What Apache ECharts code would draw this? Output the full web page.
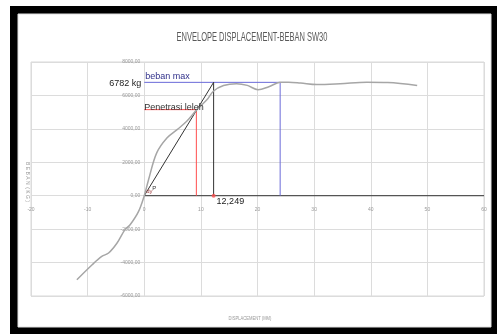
<!DOCTYPE html>
<html><head><meta charset="utf-8">
<script src="https://cdn.jsdelivr.net/npm/echarts@6/dist/echarts.min.js"></script>
<style>html,body{margin:0;padding:0;background:#fff;}#c{width:497px;height:334px;}</style>
</head><body><div id="c"></div>
<script>
// Data (displacement mm, load kg)
const xTicks = [-20, -10, 0, 10, 20, 30, 40, 50, 60];
const yTicks = [-6000, -4000, -2000, 0, 2000, 4000, 6000, 8000];
const curveX = [-11.9, -9.2, -7.5, -6.3, -4.8, -3.4, -2.5, -1.0, 0, 0.76, 2.2, 4.0, 5.8, 7.5, 9.3, 11.1, 12.2, 14.0, 16.3, 18.2, 20.1, 22.0, 24.0, 25.5, 27.6, 30.5, 34.6, 39.3, 43.0, 48.2];
const curveY = [-5030, -4130, -3630, -3430, -2830, -2030, -1740, -940, 0, 960, 2560, 3450, 3950, 4450, 5150, 5750, 6250, 6590, 6700, 6600, 6340, 6520, 6782, 6790, 6740, 6650, 6700, 6790, 6770, 6600];
const yieldDisp = 9.2, yieldLoad = 5150;
const maxDisp = 24.0, maxLoad = 6782;
const ultDisp = 12.249;

const curve = curveX.map((x, i) => [x, curveY[i]]);
const seg = (a, b, color, w) => ({type: 'line', data: [a, b], showSymbol: false, silent: true, lineStyle: {color: color, width: w || 1}, z: 3});
const fmtY = v => (Math.abs(v) < 1e-9 ? 0 : v).toFixed(2).replace('.', ',');
const fmtX = v => String(Math.abs(v) < 1e-9 ? 0 : v);

const chart = echarts.init(document.getElementById('c'), null, {renderer: 'canvas'});
const baseGraphic = [
  {type: 'rect', shape: {x: 10, y: 6, width: 487, height: 328}, style: {fill: '#000'}, z: -10, silent: true},
  {type: 'rect', shape: {x: 18, y: 14, width: 473, height: 313}, style: {fill: '#fff', stroke: '#e0e0e0'}, z: -9, silent: true},
  {type: 'text', x: 252, y: 38, scaleX: 0.6, style: {text: 'ENVELOPE DISPLACEMENT-BEBAN SW30', fontSize: 12.5, fontFamily: 'Liberation Sans, sans-serif', fill: '#595959', align: 'center', verticalAlign: 'middle'}, silent: true},
  {type: 'text', x: 27, y: 182, rotation: -Math.PI / 2, style: {text: 'B E B A N  ( K G )', fontSize: 5, fill: '#999', align: 'center', verticalAlign: 'middle'}, silent: true},
  {type: 'text', x: 250, y: 318, scaleX: 0.75, style: {text: 'DISPLACEMENT (MM)', fontSize: 5.5, fill: '#999', align: 'center', verticalAlign: 'middle'}, silent: true}
];
const option = {
  backgroundColor: '#fff',
  animation: false,
  grid: {left: 31, right: 13, top: 62, bottom: 38, show: true, borderColor: '#d9d9d9', borderWidth: 1},
  xAxis: {
    type: 'value', min: -20, max: 60, interval: 10, position: 'bottom', offset: 0,
    axisLine: {show: false, onZero: false}, axisTick: {show: false},
    axisLabel: {fontSize: 5, color: '#999', margin: 11, formatter: fmtX},
    splitLine: {lineStyle: {color: '#dcdcdc'}}
  },
  yAxis: {
    type: 'value', min: -6000, max: 8000, interval: 2000, position: 'left', offset: 0,
    axisLine: {show: false, onZero: false}, axisTick: {show: false},
    axisLabel: {fontSize: 5, color: '#999', margin: 4, formatter: fmtY},
    splitLine: {lineStyle: {color: '#dcdcdc'}}
  },
  graphic: baseGraphic,
  series: [
    seg([0, 0], [60, 0], '#555', 1.2),
    seg([0, yieldLoad], [yieldDisp, yieldLoad], '#ff4d4d', 1),
    seg([yieldDisp, yieldLoad], [yieldDisp, 0], '#ff4d4d', 1),
    seg([0, maxLoad], [maxDisp, maxLoad], '#6a6ad8', 1),
    seg([maxDisp, maxLoad], [maxDisp, 0], '#6a6ad8', 1),
    seg([0, 0], [ultDisp, maxLoad], '#333', 1),
    seg([ultDisp, maxLoad], [ultDisp, 0], '#333', 1),
    {type: 'line', data: curve, smooth: 0.35, showSymbol: false, silent: true, lineStyle: {color: '#a6a6a6', width: 1.5}, z: 4},
    {type: 'scatter', data: [[ultDisp, 0]], symbolSize: 4, itemStyle: {color: '#ff5050'}, silent: true, z: 5}
  ]
};
chart.setOption(option);

const p = (x, y) => chart.convertToPixel({gridIndex: 0}, [x, y]);
const pMax = p(0, maxLoad), pYield = p(0, yieldLoad), pUlt = p(ultDisp, 0), pO = p(0, 0);
const pMin = p(-20, -6000);
// move axes so they cross at the zero point
chart.setOption({
  xAxis: {offset: -(pMin[1] - pO[1])},
  yAxis: {offset: -(pO[0] - pMin[0])}
});
const font = 'Liberation Sans, Arial, sans-serif';
chart.setOption({graphic: baseGraphic.concat([
  {type: 'text', x: pMax[0] - 3, y: pMax[1] + 1, style: {text: '6782 kg', fontSize: 9, fontFamily: font, fill: '#222', align: 'right', verticalAlign: 'middle'}, silent: true, z: 10},
  {type: 'text', x: pMax[0] + 1, y: pMax[1] - 1, style: {text: 'beban max', fontSize: 9, fontFamily: font, fill: '#30308a', align: 'left', verticalAlign: 'bottom'}, silent: true, z: 10},
  {type: 'text', x: pYield[0], y: pYield[1] + 2, style: {text: 'Penetrasi leleh', fontSize: 9, fontFamily: font, fill: '#333', align: 'left', verticalAlign: 'bottom'}, silent: true, z: 10},
  {type: 'text', x: pUlt[0] + 3, y: pUlt[1] + 1, style: {text: '12,249', fontSize: 9, fontFamily: font, fill: '#222', align: 'left', verticalAlign: 'top'}, silent: true, z: 10},
  {type: 'text', x: pO[0] + 2, y: pO[1] - 1, style: {text: 'dy', fontSize: 6, fontFamily: font, fill: '#a04040', align: 'left', verticalAlign: 'bottom'}, silent: true, z: 10},
  {type: 'text', x: pO[0] + 8, y: pO[1] - 4, style: {text: 'P', fontSize: 6, fontFamily: font, fill: '#333', align: 'left', verticalAlign: 'bottom'}, silent: true, z: 10}
])}, {replaceMerge: ['graphic']});
</script></body></html>
